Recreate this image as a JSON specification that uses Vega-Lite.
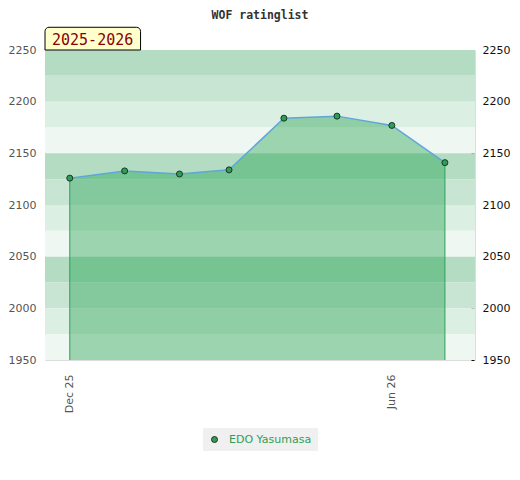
{
  "$schema": "https://vega.github.io/schema/vega-lite/v6.json",
  "width": 430,
  "height": 310,
  "autosize": "none",
  "padding": {"left": 45, "top": 50, "right": 45, "bottom": 120},
  "background": "white",
  "title": {
    "text": "WOF ratinglist",
    "font": "DejaVu Sans Mono",
    "fontSize": 11.5,
    "fontWeight": "bold",
    "color": "#333",
    "anchor": "middle",
    "frame": "group",
    "baseline": "alphabetic",
    "offset": 10,
    "dy": 14
  },
  "config": {
    "view": {"stroke": "#dddddd", "strokeWidth": 1},
    "font": "DejaVu Sans"
  },
  "datasets": {
    "bands": [
      {"lo": 2225, "hi": 2250, "shade": 1},
      {"lo": 2200, "hi": 2225, "shade": 2},
      {"lo": 2175, "hi": 2200, "shade": 3},
      {"lo": 2150, "hi": 2175, "shade": 4},
      {"lo": 2125, "hi": 2150, "shade": 1},
      {"lo": 2100, "hi": 2125, "shade": 2},
      {"lo": 2075, "hi": 2100, "shade": 3},
      {"lo": 2050, "hi": 2075, "shade": 4},
      {"lo": 2025, "hi": 2050, "shade": 1},
      {"lo": 2000, "hi": 2025, "shade": 2},
      {"lo": 1975, "hi": 2000, "shade": 3},
      {"lo": 1950, "hi": 1975, "shade": 4}
    ],
    "ratings": [
      {"date": "2025-12-01", "rating": 2126, "player": "EDO Yasumasa"},
      {"date": "2026-01-01", "rating": 2133, "player": "EDO Yasumasa"},
      {"date": "2026-02-01", "rating": 2130, "player": "EDO Yasumasa"},
      {"date": "2026-03-01", "rating": 2134, "player": "EDO Yasumasa"},
      {"date": "2026-04-01", "rating": 2184, "player": "EDO Yasumasa"},
      {"date": "2026-05-01", "rating": 2186, "player": "EDO Yasumasa"},
      {"date": "2026-06-01", "rating": 2177, "player": "EDO Yasumasa"},
      {"date": "2026-07-01", "rating": 2141, "player": "EDO Yasumasa"}
    ],
    "season": [
      {"label": "2025-2026"}
    ]
  },
  "layer": [
    {
      "data": {"name": "bands"},
      "mark": {"type": "rect"},
      "encoding": {
        "y": {
          "field": "lo",
          "type": "quantitative",
          "scale": {"domain": [1950, 2250], "nice": false, "zero": false},
          "axis": {
            "orient": "left",
            "values": [1950, 2000, 2050, 2100, 2150, 2200, 2250],
            "format": "d",
            "title": null,
            "grid": false,
            "domain": false,
            "ticks": false,
            "labelColor": "#555",
            "labelFontSize": 11,
            "labelPadding": 9
          }
        },
        "y2": {"field": "hi"},
        "color": {
          "field": "shade",
          "type": "ordinal",
          "scale": {"domain": [1, 2, 3, 4], "range": ["#b3dcc3", "#c8e5d4", "#dcefe3", "#eef7f1"]},
          "legend": null
        }
      }
    },
    {
      "data": {"name": "ratings"},
      "mark": {"type": "area", "color": "#1fa04c", "opacity": 0.4},
      "encoding": {
        "x": {
          "field": "date",
          "type": "temporal",
          "scale": {
            "type": "utc",
            "domain": [
              {"year": 2025, "month": 11, "date": 17, "utc": true},
              {"year": 2026, "month": 7, "date": 18, "utc": true}
            ]
          },
          "axis": {
            "title": null,
            "grid": false,
            "domain": false,
            "ticks": false,
            "values": [1764547200000, 1780272000000],
            "labelExpr": "utcFormat(datum.value, '%b %y')",
            "labelAngle": -90,
            "labelColor": "#555",
            "labelFontSize": 11,
            "labelPadding": 14,
            "labelFlush": false
          }
        },
        "y": {
          "field": "rating",
          "type": "quantitative",
          "axis": {
            "orient": "right",
            "title": null,
            "grid": false,
            "domain": false,
            "offset": -4,
            "values": [1950, 1960, 1970, 1980, 1990, 2000, 2010, 2020, 2030, 2040, 2050, 2060, 2070, 2080, 2090, 2100, 2110, 2120, 2130, 2140, 2150, 2160, 2170, 2180, 2190, 2200, 2210, 2220, 2230, 2240, 2250],
            "format": "d",
            "labelExpr": "datum.value % 50 === 0 ? datum.label : ''",
            "tickColor": "#111",
            "tickSize": 3,
            "labelColor": "#111",
            "labelFontSize": 11,
            "labelPadding": 8
          }
        },
        "y2": {"datum": 1950}
      }
    },
    {
      "data": {"name": "ratings"},
      "transform": [{"filter": "utcmonth(datum.date) === 11 || utcmonth(datum.date) === 6"}],
      "mark": {"type": "rule", "color": "#2ca05a", "strokeWidth": 1},
      "encoding": {
        "x": {"field": "date", "type": "temporal", "axis": null},
        "y": {"field": "rating", "type": "quantitative", "axis": null},
        "y2": {"datum": 1950}
      }
    },
    {
      "data": {"name": "ratings"},
      "mark": {"type": "line", "color": "#5ea6dc", "strokeWidth": 1.5},
      "encoding": {
        "x": {"field": "date", "type": "temporal", "axis": null},
        "y": {"field": "rating", "type": "quantitative", "axis": null}
      }
    },
    {
      "data": {"name": "ratings"},
      "mark": {"type": "circle", "size": 36, "stroke": "#1c3526", "strokeWidth": 1, "opacity": 1},
      "encoding": {
        "x": {"field": "date", "type": "temporal", "axis": null},
        "y": {"field": "rating", "type": "quantitative", "axis": null},
        "fill": {
          "field": "player",
          "type": "nominal",
          "scale": {"range": ["#2e9e57"]},
          "legend": {
            "orient": "none",
            "legendX": 158,
            "legendY": 378,
            "direction": "horizontal",
            "title": null,
            "fillColor": "#f0f0f0",
            "padding": 6,
            "symbolType": "circle",
            "symbolSize": 36,
            "symbolStrokeColor": "#1c3526",
            "symbolStrokeWidth": 1,
            "labelColor": "#2e9e57",
            "labelFontSize": 11,
            "labelOffset": 9
          }
        }
      }
    },
    {
      "data": {"name": "season"},
      "mark": {"type": "rect", "fill": "#ffffcc", "stroke": "#000", "strokeWidth": 1, "cornerRadiusTopLeft": 4, "cornerRadiusTopRight": 4},
      "encoding": {
        "x": {"datum": {"year": 2025, "month": 11, "date": 17, "utc": true}, "type": "temporal", "axis": null},
        "x2": {"datum": {"year": 2026, "month": 1, "date": 10, "utc": true}},
        "y": {"datum": 2250, "type": "quantitative", "axis": null},
        "y2": {"datum": 2272}
      }
    },
    {
      "data": {"name": "season"},
      "mark": {"type": "text", "font": "DejaVu Sans Mono", "fontSize": 15, "color": "#8b0000", "align": "left", "baseline": "alphabetic", "dx": 7, "dy": -5},
      "encoding": {
        "x": {"datum": {"year": 2025, "month": 11, "date": 17, "utc": true}, "type": "temporal", "axis": null},
        "y": {"datum": 2250, "type": "quantitative", "axis": null},
        "text": {"field": "label"}
      }
    }
  ],
  "resolve": {"axis": {"x": "independent", "y": "independent"}}
}
